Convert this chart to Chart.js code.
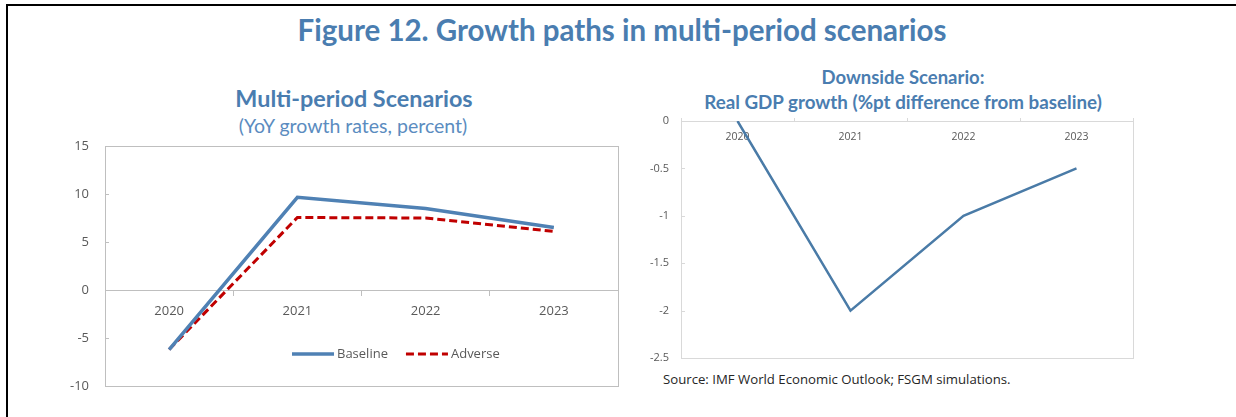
<!DOCTYPE html>
<html>
<head>
<meta charset="utf-8">
<script src="https://cdn.jsdelivr.net/npm/chart.js@4.4.1/dist/chart.umd.min.js"></script>
<style>
  html, body { margin: 0; padding: 0; background: #fff; }
  #page { position: relative; width: 1236px; height: 417px; overflow: hidden; font-family: Lato, "Open Sans", sans-serif; }
  #frame { position: absolute; left: 6px; top: 4px; width: 1300px; height: 500px; border-top: 2px solid #000; border-left: 2px solid #000; }
  .t { position: absolute; white-space: nowrap; transform: translate(-50%, -50%); color: #4A7DB0; }
  .box { position: absolute; }
</style>
</head>
<body>
<div id="page">
  <div id="frame"></div>
  <div class="t" style="left:622px; top:29px; font-size:29.5px; font-weight:700;">Figure 12. Growth paths in multi-period scenarios</div>

  <div class="t" style="left:354px; top:98px; font-size:23.4px; font-weight:700;">Multi-period Scenarios</div>
  <div class="t" style="left:353px; top:125px; font-size:19.5px; color:#5B8CC0;">(YoY growth rates, percent)</div>

  <div class="t" style="left:903px; top:77px; font-size:18.5px; font-weight:700;">Downside Scenario:</div>
  <div class="t" style="left:903px; top:101px; font-size:18.8px; font-weight:700;">Real GDP growth (%pt difference from baseline)</div>

  <div class="box" style="left:0px; top:136px; width:620px; height:264px;"><canvas id="leftChart"></canvas></div>
  <div class="box" style="left:620px; top:110px; width:520px; height:260px;"><canvas id="rightChart"></canvas></div>

  <div style="position:absolute; left:663px; top:370px; font-family:'Open Sans', sans-serif; font-size:13.2px; color:#262626; white-space:nowrap;">Source: IMF World Economic Outlook; FSGM simulations.</div>
</div>

<script>
// data
const years = ['2020', '2021', '2022', '2023'];
const baseline = [-6.2, 9.65, 8.5, 6.5];
const adverse = [-6.2, 7.55, 7.5, 6.1];
const downside = [0, -2, -1, -0.5];

const leftTicks = { min: -10, max: 15, step: 5 };
const rightTicks = { min: -2.5, max: 0, step: 0.5 };

Chart.defaults.font.family = "'Open Sans', sans-serif";
Chart.defaults.color = '#595959';
Chart.defaults.animation = false;

// plot box with little inside ticks on the y axis
const framePlugin = {
  id: 'frame',
  beforeDatasetsDraw(chart, args, opts) {
    const { ctx, chartArea: a } = chart;
    const y = chart.scales.y;
    ctx.save();
    ctx.strokeStyle = opts.color;
    ctx.lineWidth = 1;
    ctx.strokeRect(Math.round(a.left) + 0.5, Math.round(a.top) + 0.5,
      Math.round(a.right - a.left), Math.round(a.bottom - a.top));
    ctx.beginPath();
    y.ticks.forEach(t => {
      const py = Math.round(y.getPixelForValue(t.value)) + 0.5;
      ctx.moveTo(a.left, py);
      ctx.lineTo(a.left + 4, py);
    });
    ctx.stroke();
    ctx.restore();
  }
};

// legend drawn inside the plot area
const innerLegend = {
  id: 'innerLegend',
  afterDraw(chart, args, opts) {
    if (!opts.show) return;
    const { ctx, chartArea: a } = chart;
    let x = a.left + opts.dx;
    const y = a.bottom - opts.dy;
    ctx.save();
    ctx.font = "13px 'Open Sans', sans-serif";
    ctx.textBaseline = 'middle';
    ctx.fillStyle = '#595959';
    chart.data.datasets.forEach(ds => {
      ctx.beginPath();
      ctx.strokeStyle = ds.borderColor;
      ctx.lineWidth = ds.borderWidth;
      ctx.setLineDash(ds.borderDash || []);
      ctx.moveTo(x, y);
      ctx.lineTo(x + 42, y);
      ctx.stroke();
      ctx.setLineDash([]);
      ctx.fillText(ds.label, x + 45, y);
      x += 45 + ctx.measureText(ds.label).width + 18;
    });
    ctx.restore();
  }
};

// invisible tick marks keep the labels off the axis without padding the top
function yAxis(t, width, gap, size) {
  return {
    min: t.min, max: t.max,
    grid: { display: true, drawOnChartArea: false, drawTicks: true, tickLength: gap, color: 'rgba(0,0,0,0)' },
    border: { display: false },
    ticks: {
      stepSize: t.step, padding: 0, font: { size: size }, color: '#595959',
      callback: v => String(v)
    },
    afterFit(scale) { scale.width = width; }
  };
}

new Chart(document.getElementById('leftChart'), {
  type: 'line',
  data: {
    labels: years,
    datasets: [
      { label: 'Baseline', data: baseline, borderColor: '#4F81B4', borderWidth: 3.5, pointRadius: 0, tension: 0 },
      { label: 'Adverse', data: adverse, borderColor: '#C00000', borderWidth: 3, borderDash: [8, 4], pointRadius: 0, tension: 0 }
    ]
  },
  options: {
    responsive: true,
    maintainAspectRatio: false,
    layout: { padding: { top: 10, bottom: 14, left: 0, right: 2 } },
    plugins: {
      legend: { display: false },
      tooltip: { enabled: false },
      frame: { color: '#BFBFBF' },
      innerLegend: { show: true, dx: 187, dy: 32 }
    },
    scales: {
      x: {
        position: { y: 0 },
        offset: true,
        grid: { display: true, drawOnChartArea: false, drawTicks: true, tickLength: 5, offset: true, color: '#BFBFBF' },
        border: { display: true, color: '#BFBFBF' },
        ticks: { padding: 8, font: { size: 13 }, color: '#595959', maxRotation: 0 }
      },
      y: yAxis(leftTicks, 105, 16, 13)
    }
  },
  plugins: [framePlugin, innerLegend]
});

new Chart(document.getElementById('rightChart'), {
  type: 'line',
  data: {
    labels: years,
    datasets: [
      { label: 'Downside', data: downside, borderColor: '#4A7BA7', borderWidth: 2.5, pointRadius: 0, tension: 0 }
    ]
  },
  options: {
    responsive: true,
    maintainAspectRatio: false,
    layout: { padding: { top: 11, bottom: 12, left: 0, right: 7 } },
    plugins: {
      legend: { display: false },
      tooltip: { enabled: false },
      frame: { color: '#D9D9D9' },
      innerLegend: { show: false }
    },
    scales: {
      x: {
        position: { y: 0 },
        offset: true,
        grid: { display: true, drawOnChartArea: false, drawTicks: true, tickLength: -4, offset: true, color: '#D9D9D9' },
        border: { display: true, color: '#D9D9D9' },
        ticks: { padding: 14, font: { size: 10.5 }, color: '#595959', maxRotation: 0 }
      },
      y: yAxis(rightTicks, 61, 12, 11)
    }
  },
  plugins: [framePlugin, innerLegend]
});
</script>
</body>
</html>
